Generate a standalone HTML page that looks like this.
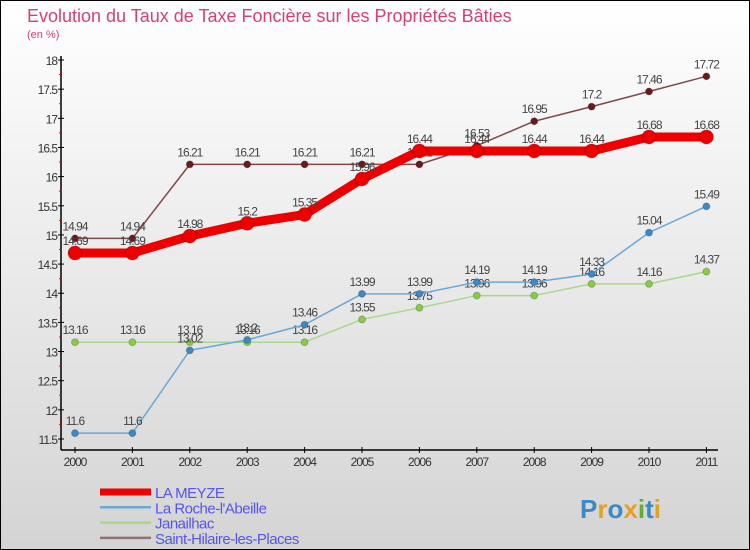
<!DOCTYPE html>
<html><head><meta charset="utf-8"><style>
body{margin:0;width:750px;height:550px;overflow:hidden;font-family:"Liberation Sans",sans-serif}
#c{position:absolute;left:0;top:0;width:748px;height:548px;border:1px solid #000;background:linear-gradient(#ffffff,#d4d4d4)}
</style></head><body>
<div id="c">
<svg id="s" width="750" height="550" style="position:absolute;left:-1px;top:-1px"></svg>
</div>
<script>
const years=["2000","2001","2002","2003","2004","2005","2006","2007","2008","2009","2010","2011"];
const meyze=[14.69,14.69,14.98,15.2,15.35,15.96,16.44,16.44,16.44,16.44,16.68,16.68];
const roche=[11.6,11.6,13.02,13.2,13.46,13.99,13.99,14.19,14.19,14.33,15.04,15.49];
const janailhac=[13.16,13.16,13.16,13.16,13.16,13.55,13.75,13.96,13.96,14.16,14.16,14.37];
const hilaire=[14.94,14.94,16.21,16.21,16.21,16.21,16.21,16.53,16.95,17.2,17.46,17.72];
const yTicks=[11.5,12,12.5,13,13.5,14,14.5,15,15.5,16,16.5,17,17.5,18];
const NS="http://www.w3.org/2000/svg",s=document.getElementById('s');
const X=i=>75+i*57.4, Y=v=>439-(v-11.5)*(379/6.5);
function el(t,a,p){const e=document.createElementNS(NS,t);for(const k in a)e.setAttribute(k,a[k]);(p||s).appendChild(e);return e;}
function tx(x,y,t,a){const e=el('text',Object.assign({x:x,y:y},a));e.textContent=t;return e;}
const title=tx(27,22,"Evolution du Taux de Taxe Foncière sur les Propriétés Bâties",{fill:"#d94070","font-size":"18"});

const unit=tx(27,38,"(en %)",{fill:"#d94070","font-size":"11"});

const ax=el('g',{});
el('line',{x1:61,y1:56,x2:61,y2:450,stroke:"#000","stroke-width":1.5},ax);
el('line',{x1:61,y1:450,x2:718,y2:450,stroke:"#000","stroke-width":1.5},ax);
yTicks.forEach((v,i)=>{const y=Y(v);el('line',{x1:58,y1:y,x2:64,y2:y,stroke:"#000"},ax);
 if(i<yTicks.length-1){const ym=Y(v+0.25);el('line',{x1:59,y1:ym,x2:62,y2:ym,stroke:"#e00"},ax);}
 tx(57,y+5,String(v),{"text-anchor":"end","font-size":"12",fill:"#333","letter-spacing":"-1"},ax);});
years.forEach((yr,i)=>{const x=X(i);el('line',{x1:x,y1:447,x2:x,y2:453,stroke:"#000"},ax);
 tx(x,466,yr,{"text-anchor":"middle","font-size":"12",fill:"#333","letter-spacing":"-1"},ax);});
function series(name,d,col,w,r,dot,lab){const g=el('g',{});
 el('polyline',{points:d.map((v,i)=>X(i)+","+Y(v)).join(" "),fill:"none",stroke:col,"stroke-width":w,"stroke-linejoin":"round"},g);
 d.forEach((v,i)=>{const c=el('circle',{cx:X(i),cy:Y(v),r:r,fill:dot,stroke:"rgba(0,0,0,0.2)"},g);
  tx(X(i),Y(v)-8,String(v),{"text-anchor":"middle","font-size":"12",fill:lab,"letter-spacing":"-1"},g);});}
series('series-janailhac',janailhac,"#a8d888",1.5,3.5,"#88cc44","#444");
series('series-la-roche',roche,"#6aa8d8",1.5,3.5,"#3a8ac8","#444");
series('series-saint-hilaire',hilaire,"#804848",1.5,3.5,"#6a1a1a","#444");
series('series-la-meyze',meyze,"#ee0000",9,7,"#ee0000","#444");
const lg=el('g',{});
[["LA MEYZE","#ee0000",7],["La Roche-l'Abeille","#6aa8d8",2.5],["Janailhac","#a8d888",2.5],["Saint-Hilaire-les-Places","#907070",2.5]].forEach((e,i)=>{const y=492+i*15.3;
 el('line',{x1:100,y1:y,x2:151,y2:y,stroke:e[1],"stroke-width":e[2]},lg);
 const t=tx(155,y+6,e[0],{"font-size":"15",fill:"#5555ee","letter-spacing":"-0.5"},lg);});
const logo=el('g',{});
const lt=tx(580,518,"",{"font-size":"26","font-weight":"bold"},logo);
[["P","#3a8ac8"],["r","#e8a020"],["o","#3a8ac8"],["x","#e8a020"],["i","#60b030"],["t","#3a8ac8"],["i","#e8a020"]].forEach(c=>{const sp=el('tspan',{fill:c[1]},lt);sp.textContent=c[0];});
</script>
</body></html>
